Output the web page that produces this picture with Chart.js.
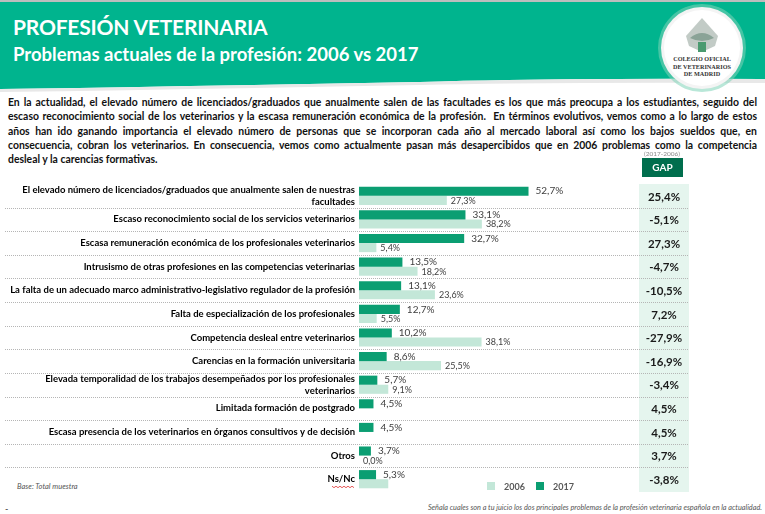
<!DOCTYPE html>
<html>
<head>
<meta charset="utf-8">
<script src="https://cdn.jsdelivr.net/npm/chart.js@4"></script>
<style>
  html, body { margin: 0; padding: 0; background: #fff; }
  body { width: 765px; height: 514px; position: relative; overflow: hidden; font-family: Lato, "Open Sans", sans-serif; }
  #chart { position: absolute; left: 0; top: 0; }
  .hdr { position: absolute; left: 0; top: 0; width: 765px; height: 95px; }
  .t1 { position: absolute; left: 13px; top: 14px; color: #fff; font-weight: bold; font-size: 21px; letter-spacing: -0.2px; }
  .t2 { position: absolute; left: 13px; top: 43px; color: #fff; font-weight: bold; font-size: 18.5px; }
  .para { position: absolute; left: 8px; top: 95px; width: 749px; font-size: 10.4px; font-weight: bold; color: #111; line-height: 14.3px; }
  .para div { text-align: justify; text-align-last: justify; white-space: nowrap; }
  .para div.last { text-align-last: left; }
  .logo-txt { position: absolute; left: 660px; top: 55px; width: 84px; text-align: center; font-family: "Liberation Serif", serif; font-size: 6.2px; line-height: 7.6px; color: #333; font-weight: bold; }
  .note { position: absolute; font-style: italic; color: #555; }
</style>
</head>
<body>
<svg class="hdr" width="765" height="95">
  <rect x="0" y="0" width="765" height="2" fill="#bdbdbd"/>
  <path d="M0,2 H765 V79 Q560,78 420,82 Q200,86 0,89 Z" fill="#00B48E"/>
  <path d="M0,89 Q200,86 420,82 Q560,78 765,79 V83 Q560,82 420,85 Q200,89 0,92 Z" fill="#e8e8e8"/>
  <circle cx="702" cy="48" r="44" fill="#7fd4b8" opacity="0.55"/>
  <circle cx="702" cy="48" r="41" fill="#f4f4f4"/>
  <circle cx="702" cy="48" r="38" fill="#ffffff"/>
  <path d="M686,36 L702,18 L718,36 L715,46 L702,52 L689,46 Z" fill="#c2cbc6"/>
  <path d="M690,38 Q702,28 714,38 Q702,44 690,38 Z" fill="#8aa397"/>
  <rect x="698" y="42" width="8" height="10" fill="#4a9a70"/>
</svg>
<div class="t1">PROFESIÓN VETERINARIA</div>
<div class="t2">Problemas actuales de la profesión: 2006 vs 2017</div>
<div class="logo-txt">COLEGIO OFICIAL<br>DE VETERINARIOS<br>DE MADRID</div>
<div class="para">
  <div>En la actualidad, el elevado número de licenciados/graduados que anualmente salen de las facultades es los que más preocupa a los estudiantes, seguido del</div>
  <div>escaso reconocimiento social de los veterinarios y la escasa remuneración económica de la profesión.&nbsp; En términos evolutivos, vemos como a lo largo de estos</div>
  <div>años han ido ganando importancia el elevado número de personas que se incorporan cada año al mercado laboral así como los bajos sueldos que, en</div>
  <div>consecuencia, cobran los veterinarios. En consecuencia, vemos como actualmente pasan más desapercibidos que en 2006 problemas como la competencia</div>
  <div class="last">desleal y la carencias formativas.</div>
</div>
<div class="note" style="left:17px; top:482px; font-size:7.5px;">Base: Total muestra</div>
<div class="note" style="left:404px; top:503px; font-size:7.3px; width:358px; text-align:right; white-space:nowrap;">Señala cuales son a tu juicio los dos principales problemas de la profesión veterinaria española en la actualidad.</div>
<div style="position:absolute; left:5px; top:503px; font-size:9px; color:#333;">-</div>
<canvas id="chart" width="765" height="514"></canvas>
<script>
  // categorias (multilinea donde el original parte la etiqueta)
  const categories = [
    ["El elevado número de licenciados/graduados que anualmente salen de nuestras", "facultades"],
    "Escaso reconocimiento social de los servicios veterinarios",
    "Escasa remuneración económica de los profesionales veterinarios",
    "Intrusismo de otras profesiones en las competencias veterinarias",
    "La falta de un adecuado marco administrativo-legislativo regulador de la profesión",
    "Falta de especialización de los profesionales",
    "Competencia desleal entre veterinarios",
    "Carencias en la formación universitaria",
    ["Elevada temporalidad de los trabajos desempeñados por los profesionales", "veterinarios"],
    "Limitada formación de postgrado",
    "Escasa presencia de los veterinarios en órganos consultivos y de decisión",
    "Otros",
    "Ns/Nc"
  ];
  const values2017 = [52.7, 33.1, 32.7, 13.5, 13.1, 12.7, 10.2, 8.6, 5.7, 4.5, 4.5, 3.7, 5.3];
  const values2006 = [27.3, 38.2, 5.4, 18.2, 23.6, 5.5, 38.1, 25.5, 9.1, null, null, 0.0, 9.1];
  const showLabel2006 = [true, true, true, true, true, true, true, true, true, false, false, true, false];
  const gapLabels = ["25,4%", "-5,1%", "27,3%", "-4,7%", "-10,5%", "7,2%", "-27,9%", "-16,9%", "-3,4%", "4,5%", "4,5%", "3,7%", "-3,8%"];
  const seriesNames = ["2017", "2006"];

  const C2017 = "#0B9E72";
  const C2006 = "#C3E7D8";
  const fmt = (v) => v.toFixed(1).replace(".", ",") + "%";

  const overlay = {
    id: "overlay",
    beforeDatasetsDraw(chart) {
      const ctx = chart.ctx, y = chart.scales.y, area = chart.chartArea;
      ctx.save();
      // columna GAP
      ctx.fillStyle = "#E5F5EE";
      ctx.fillRect(639, area.top, 50, area.bottom - area.top + 1);
      // separadores punteados
      ctx.strokeStyle = "#B5B5B5";
      ctx.lineWidth = 1;
      ctx.setLineDash([1, 1]);
      for (let i = 0; i < categories.length - 1; i++) {
        const py = Math.round((y.getPixelForValue(i) + y.getPixelForValue(i + 1)) / 2) + 0.5;
        ctx.beginPath(); ctx.moveTo(5, py); ctx.lineTo(689, py); ctx.stroke();
      }
      ctx.setLineDash([]);
      ctx.restore();
    },
    afterDatasetsDraw(chart) {
      const ctx = chart.ctx, y = chart.scales.y;
      ctx.save();
      ctx.textBaseline = "middle";
      ctx.fillStyle = "#404040";
      // etiquetas de valor
      chart.getDatasetMeta(0).data.forEach((bar, i) => {
        ctx.font = "10px Lato";
        ctx.textAlign = "left";
        ctx.fillText(fmt(values2017[i]), bar.x + 7, bar.y);
      });
      chart.getDatasetMeta(1).data.forEach((bar, i) => {
        if (values2006[i] === null || !showLabel2006[i]) return;
        ctx.font = "9px Lato";
        ctx.textAlign = "left";
        ctx.fillText(fmt(values2006[i]), bar.x + 4, bar.y + 0.5);
      });
      // GAP
      ctx.font = "bold 11.5px Lato";
      ctx.textAlign = "center";
      ctx.fillStyle = "#1a1a1a";
      gapLabels.forEach((g, i) => ctx.fillText(g, 664, y.getPixelForValue(i) + 1));
      // cabecera GAP
      ctx.fillStyle = "#006E4D";
      ctx.fillRect(642, 158, 41, 19);
      ctx.fillStyle = "#fff";
      ctx.font = "bold 10px Lato";
      ctx.fillText("GAP", 662.5, 168);
      ctx.fillStyle = "#8a8a8a";
      ctx.font = "6.5px Lato";
      ctx.fillText("(2017-2006)", 662, 153.5);
      // subrayado ondulado bajo Ns/Nc (corrector del original)
      const wy = y.getPixelForValue(categories.length - 1) + 7;
      ctx.strokeStyle = "#e03030";
      ctx.lineWidth = 0.8;
      ctx.beginPath();
      for (let x = 332, k = 0; x <= 355; x += 2, k++) {
        if (k === 0) ctx.moveTo(x, wy); else ctx.lineTo(x, wy + (k % 2 ? 1.5 : 0));
      }
      ctx.stroke();
      // leyenda
      const leg = [["2006", C2006, 487], ["2017", C2017, 536]];
      leg.forEach(([t, c, lx]) => {
        ctx.fillStyle = c;
        ctx.fillRect(lx, 482, 8, 8);
        ctx.fillStyle = "#595959";
        ctx.font = "bold 9px Lato";
        ctx.textAlign = "left";
        ctx.fillText(t, lx + 17, 487);
      });
      ctx.restore();
    }
  };

  new Chart(document.getElementById("chart"), {
    type: "bar",
    data: {
      labels: categories,
      datasets: [
        { label: seriesNames[0], data: values2017, backgroundColor: C2017, barPercentage: 1, categoryPercentage: 0.77 },
        { label: seriesNames[1], data: values2006, backgroundColor: C2006, barPercentage: 1, categoryPercentage: 0.77 }
      ]
    },
    options: {
      indexAxis: "y",
      responsive: false,
      animation: false,
      layout: { padding: { top: 184, bottom: 23, left: 0, right: 213 } },
      plugins: { legend: { display: false }, tooltip: { enabled: false } },
      scales: {
        x: { display: false, min: 0, max: 60 },
        y: {
          afterFit(scale) { scale.width = 359; },
          grid: { display: false, drawTicks: false },
          border: { display: false },
          ticks: { autoSkip: false, color: "#000", padding: 4, font: { family: "Lato", weight: "bold", size: 9.5, lineHeight: 1.3 } }
        }
      }
    },
    plugins: [overlay]
  });
</script>
</body>
</html>
